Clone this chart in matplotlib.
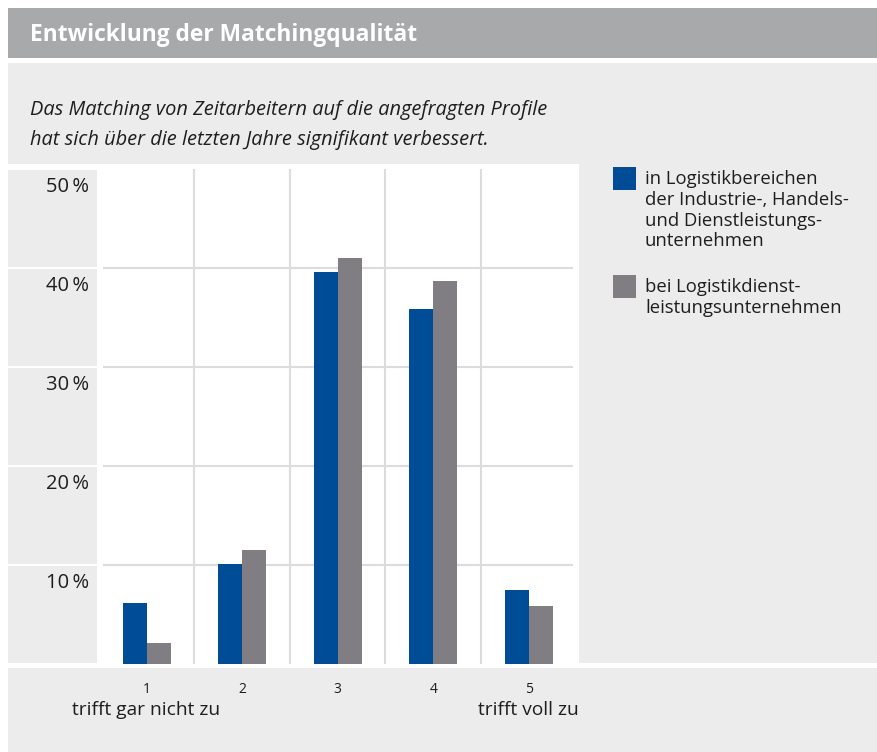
import matplotlib
matplotlib.use("Agg")
import matplotlib.pyplot as plt
import matplotlib.transforms as mtransforms
from matplotlib.patches import Rectangle
import numpy as np

# ---- data ----
categories = ["1", "2", "3", "4", "5"]
series_names = ["in Logistikbereichen\nder Industrie-, Handels-\nund Dienstleistungs-\nunternehmen",
                "bei Logistikdienst-\nleistungsunternehmen"]
industry_vals = [6.2, 10.1, 39.6, 35.8, 7.5]
logistics_vals = [2.1, 11.5, 41.0, 38.6, 5.9]
y_ticks = [10, 20, 30, 40, 50]
y_tick_labels = ["10\u2009%", "20\u2009%", "30\u2009%", "40\u2009%", "50\u2009%"]
scale_low = "trifft gar nicht zu"
scale_high = "trifft voll zu"
title = "Entwicklung der Matchingqualität"
subtitle = ["Das Matching von Zeitarbeitern auf die angefragten Profile",
            "hat sich über die letzten Jahre signifikant verbessert."]

BLUE = "#004C97"
GREY = "#807E83"
TITLE_BG = "#A8A9AB"
PANEL = "#EBECEB"
GRID = "#DCDCDC"
TEXT = "#1E1E1E"

plt.rcParams['font.family'] = ['Open Sans', 'DejaVu Sans']

W, H = 878, 752
fig = plt.figure(figsize=(W / 100, H / 100), dpi=100)
fig.patch.set_facecolor("white")


def fx(x):
    return x / W


def fy(y):
    return 1 - y / H


def rect(x0, y0, x1, y1, color):
    fig.add_artist(Rectangle((fx(x0), fy(y1)), (x1 - x0) / W, (y1 - y0) / H,
                             transform=fig.transFigure, facecolor=color,
                             edgecolor="none", zorder=0))


# background panels
rect(8, 8, 878, 58, TITLE_BG)
rect(8, 63, 878, 164, PANEL)
rect(8, 170, 97, 663, PANEL)
rect(579, 164, 878, 663, PANEL)
rect(8, 668, 878, 752, PANEL)

fig.text(fx(30), fy(35), title, color="white", fontsize=16.4, fontweight="bold",
         va="center", ha="left")
fig.text(fx(30), fy(110), subtitle[0], color=TEXT, fontsize=14.4, style="italic",
         va="center", ha="left")
fig.text(fx(30), fy(140), subtitle[1], color=TEXT, fontsize=14.4, style="italic",
         va="center", ha="left")

# axes
ax_top, ax_bot = 168.5, 664
ax = fig.add_axes([fx(97), fy(ax_bot), (578 - 97) / W, (ax_bot - ax_top) / H])
ax.set_facecolor("white")
for s in ax.spines.values():
    s.set_visible(False)

x = np.arange(1, len(categories) + 1)
bw = 0.251
ax.bar(x - bw / 2, industry_vals, bw, color=BLUE, zorder=3)
ax.bar(x + bw / 2, logistics_vals, bw, color=GREY, zorder=3)

ax.set_xlim(0.482, 5.514)
ax.set_ylim(0, 50)

# grid lines
ytr = ax.get_yaxis_transform()
for v in y_ticks[:-1]:
    ax.plot([(103 - 97) / 481, (573 - 97) / 481], [v, v], transform=ytr,
            color=GRID, lw=1.5, zorder=1, solid_capstyle="butt")
    # white separators in label column
    ax.plot([(8 - 97) / 481, 0], [v, v], transform=ytr, color="white", lw=1.5,
            zorder=1, clip_on=False, solid_capstyle="butt")
for b in x[:-1] + 0.5:
    ax.axvline(b, color=GRID, lw=1.5, zorder=1)

# y tick labels
ax.set_yticks(y_ticks)
ax.set_yticklabels(y_tick_labels)
ax.tick_params(axis="y", length=0, pad=5.8, labelsize=14.5, labelcolor=TEXT)
off = mtransforms.ScaledTranslation(0, -18 / 100, fig.dpi_scale_trans)
for lab in ax.get_yticklabels():
    lab.set_transform(lab.get_transform() + off)
    lab.set_verticalalignment("center")

# x tick labels
ax.set_xticks(x)
ax.set_xticklabels(categories)
ax.tick_params(axis="x", length=0, pad=13, labelsize=10, labelcolor=TEXT)

xtr = ax.get_xaxis_transform()
lo = mtransforms.ScaledTranslation(0, -46 / 100, fig.dpi_scale_trans)
ax.text(x[0], 0, scale_low, transform=xtr + lo, ha="center", va="center",
        fontsize=13.8, color=TEXT)
ax.text(x[-1], 0, scale_high, transform=xtr + lo, ha="center", va="center",
        fontsize=13.8, color=TEXT)

# legend (manual)
leg_items = [(series_names[0], BLUE, 167), (series_names[1], GREY, 275)]
for name, col, ytop in leg_items:
    rect(613, ytop, 636, ytop + 23, col)
    fig.text(fx(645), fy(ytop + 3), name, color=TEXT, fontsize=13.3,
             va="top", ha="left", linespacing=1.2)

fig.savefig("out.png", dpi=100, facecolor=fig.get_facecolor())
